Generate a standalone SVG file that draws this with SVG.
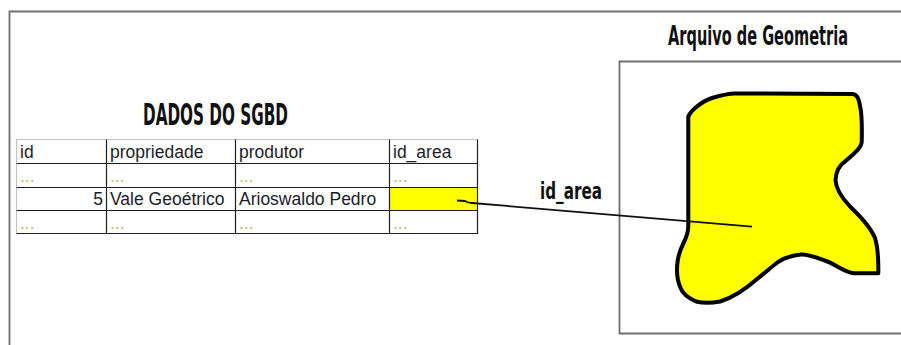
<svg xmlns="http://www.w3.org/2000/svg" width="901" height="345" viewBox="0 0 901 345">
  <style>
    .frame { fill: none; stroke: #6e6e6e; stroke-width: 1.8; }
    .grid { stroke: #1e1e1e; stroke-width: 1.2; fill: none; }
    .edge { stroke: #c4c4c4; stroke-width: 1.2; fill: none; }
    .cell { font-family: "Liberation Sans", Arial, sans-serif; font-size: 17.5px; fill: #1c1c2a; }
    .dots { font-family: "Liberation Sans", Arial, sans-serif; font-size: 17.5px; fill: #d2b46e; }
    .title { font-family: "Liberation Sans Narrow", "DejaVu Sans Condensed", sans-serif; font-weight: bold; fill: #111; }
    .link { fill: none; stroke: #111; stroke-width: 1.8; stroke-linejoin: round; }
  </style>

  <!-- page frame -->
  <path class="frame" d="M9.5,345 V11.5 H901"/>

  <!-- database table -->
  <g id="tabela-sgbd">
    <text class="title" x="143" y="125" font-size="30" textLength="145" lengthAdjust="spacingAndGlyphs">DADOS DO SGBD</text>
    <rect x="389.5" y="187.5" width="88" height="23" fill="#ffff00"/>
    <path class="edge" d="M16.5,234 V139.5 H478"/>
    <path class="grid" d="M16.5,163.5 H477.5 M16.5,187.5 H477.5 M16.5,210.5 H477.5 M16.5,233.5 H477.5
                          M106.5,139.5 V234 M235.5,139.5 V234 M389.5,139.5 V234 M477.5,139.5 V234"/>
    <text class="cell" x="20" y="158">id</text>
    <text class="cell" x="110" y="158">propriedade</text>
    <text class="cell" x="239" y="158">produtor</text>
    <text class="cell" x="393" y="158">id_area</text>
    <text class="dots" x="20" y="182">...</text>
    <text class="dots" x="110" y="182">...</text>
    <text class="dots" x="239" y="182">...</text>
    <text class="dots" x="393" y="182">...</text>
    <text class="cell" x="103" y="205" text-anchor="end">5</text>
    <text class="cell" x="110" y="205">Vale Geoétrico</text>
    <text class="cell" x="239" y="205">Arioswaldo Pedro</text>
    <text class="dots" x="20" y="229">...</text>
    <text class="dots" x="110" y="229">...</text>
    <text class="dots" x="239" y="229">...</text>
    <text class="dots" x="393" y="229">...</text>
  </g>

  <!-- geometry file -->
  <g id="arquivo-geometria">
    <text class="title" x="668" y="45" font-size="26" font-weight="normal" textLength="180" lengthAdjust="spacingAndGlyphs">Arquivo de Geometria</text>
    <path class="frame" stroke-width="1.5" d="M901,61.5 H619.5 V333.5 H901"/>
    <path fill="#ffff00" stroke="#000" stroke-width="4" stroke-linejoin="round"
          d="M688.3,116.7 C690,112 700,102 712,98 C722,95 728,93.5 735,93.5 L853,94
             C858,95 859,100 860,106 C862,114 862,130 861.7,142 C861,148 855,153 845,161.5
             C838,166 836,172 835.5,180 C836,190 842,198 850,206.5 C860,216 870,226 875,238
             C878,248 878.5,262 878.3,273.3 L853.3,273.3 C842,271 835,264 826,261
             C815,257 808,254 801,254.5 C790,255.5 784,258 778,262 C770,268 765,273 757,279
             C748,287 735,297 720,301.5 C710,303.5 702,303 696,301.5 C688,298 683,294 680.5,288
             C677,280 676.5,272 677.3,264 C678,255 681,248 684,242 C687,236 688.3,230 688.3,226
             Z"/>
  </g>

  <!-- connectors -->
  <g id="conectores">
    <path class="link" d="M457,200.5 L465,201 Q468,203 472,203 L752,226.7"/>
    <text class="title" x="540" y="199" font-size="23" textLength="62" lengthAdjust="spacingAndGlyphs">id_area</text>
  </g>
</svg>
